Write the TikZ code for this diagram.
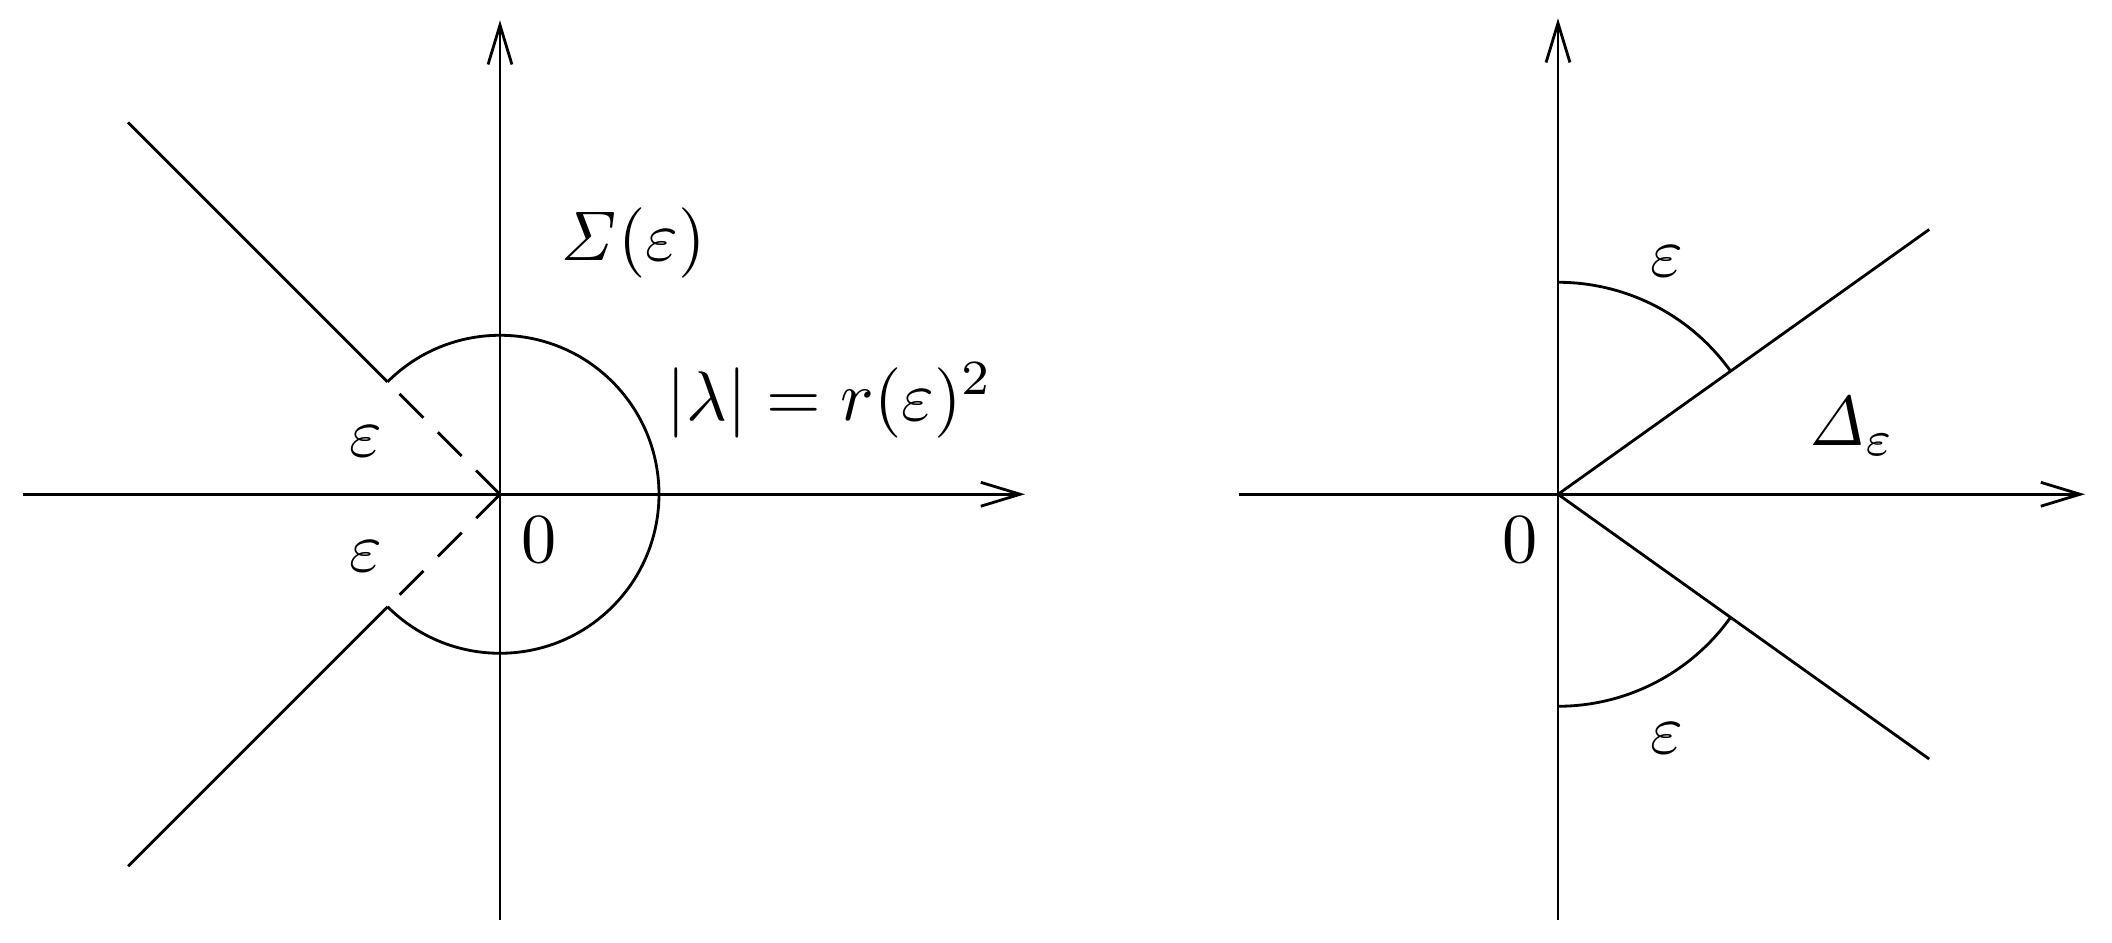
\documentclass[tikz,border=0pt]{standalone}
\usepackage{amsmath,amssymb}
\usetikzlibrary{arrows.meta}
\def\myrad{0.795}
\def\mysec{1.06}
\tikzset{
>={Straight Barb[length=5.6pt,width=3.4pt]}, % long open tips
axis/.style={->},
half ray/.style={dash pattern=on 4.8pt off 2.9pt},
lbl/.style={inner sep=0pt},
}
\begin{document}
\begin{tikzpicture}
\useasboundingbox (-2.5,-2.2435) rectangle (8.06,2.4715);
% left plane
\coordinate (o1) at (0,0);
\coordinate (w1) at (-2.385,0);
\coordinate (e1) at (2.625,0);
\coordinate (s1) at (0,-2.13);
\coordinate (n1) at (0,2.37);
\coordinate (a1) at (135:\myrad);
\coordinate (b1) at (-135:\myrad);
\coordinate (p1) at (135:2.63);
\coordinate (q1) at (-135:2.63);
\draw[axis] (w1) -- (e1);
\draw[axis] (s1) -- (n1);
\draw (a1) arc[start angle=135,end angle=-135,radius=\myrad];
\draw[half ray] (o1) -- (a1) (o1) -- (b1);
\draw (a1) -- (p1) (b1) -- (q1);
\node[lbl] (eu1) at (-0.67,0.263) {$\varepsilon$};
\node[lbl] (el1) at (-0.67,-0.312) {$\varepsilon$};
\node[lbl] (z1) at (0.195,-0.23) {$0$};
\node[lbl] (sig) at (0.665,1.255) {$\mathit{\Sigma}(\varepsilon)$};
\node[lbl] (rad) at (1.65,0.47) {$|\lambda|=r(\varepsilon)^2$};
% right plane
\begin{scope}[xshift=5.29cm]
\coordinate (o2) at (0,0);
\coordinate (w2) at (-1.595,0);
\coordinate (e2) at (2.635,0);
\coordinate (s2) at (0,-2.13);
\coordinate (n2) at (0,2.38);
\coordinate (a2) at (90:\mysec);
\coordinate (b2) at (-90:\mysec);
\coordinate (p2) at (35.5:2.28);
\coordinate (q2) at (-35.5:2.28);
\draw[axis] (w2) -- (e2);
\draw[axis] (s2) -- (n2);
\draw (o2) -- (p2) (o2) -- (q2);
\draw (a2) arc[start angle=90,end angle=35.5,radius=\mysec];
\draw (b2) arc[start angle=-90,end angle=-35.5,radius=\mysec];
\node[lbl] (eu2) at (0.542,1.163) {$\varepsilon$};
\node[lbl] (el2) at (0.545,-1.22) {$\varepsilon$};
\node[lbl] (z2) at (-0.19,-0.23) {$0$};
\node[lbl,anchor=base] (del) at (1.47,0.245) {$\mathit{\Delta}_\varepsilon$};
\end{scope}
\end{tikzpicture}
\end{document}
